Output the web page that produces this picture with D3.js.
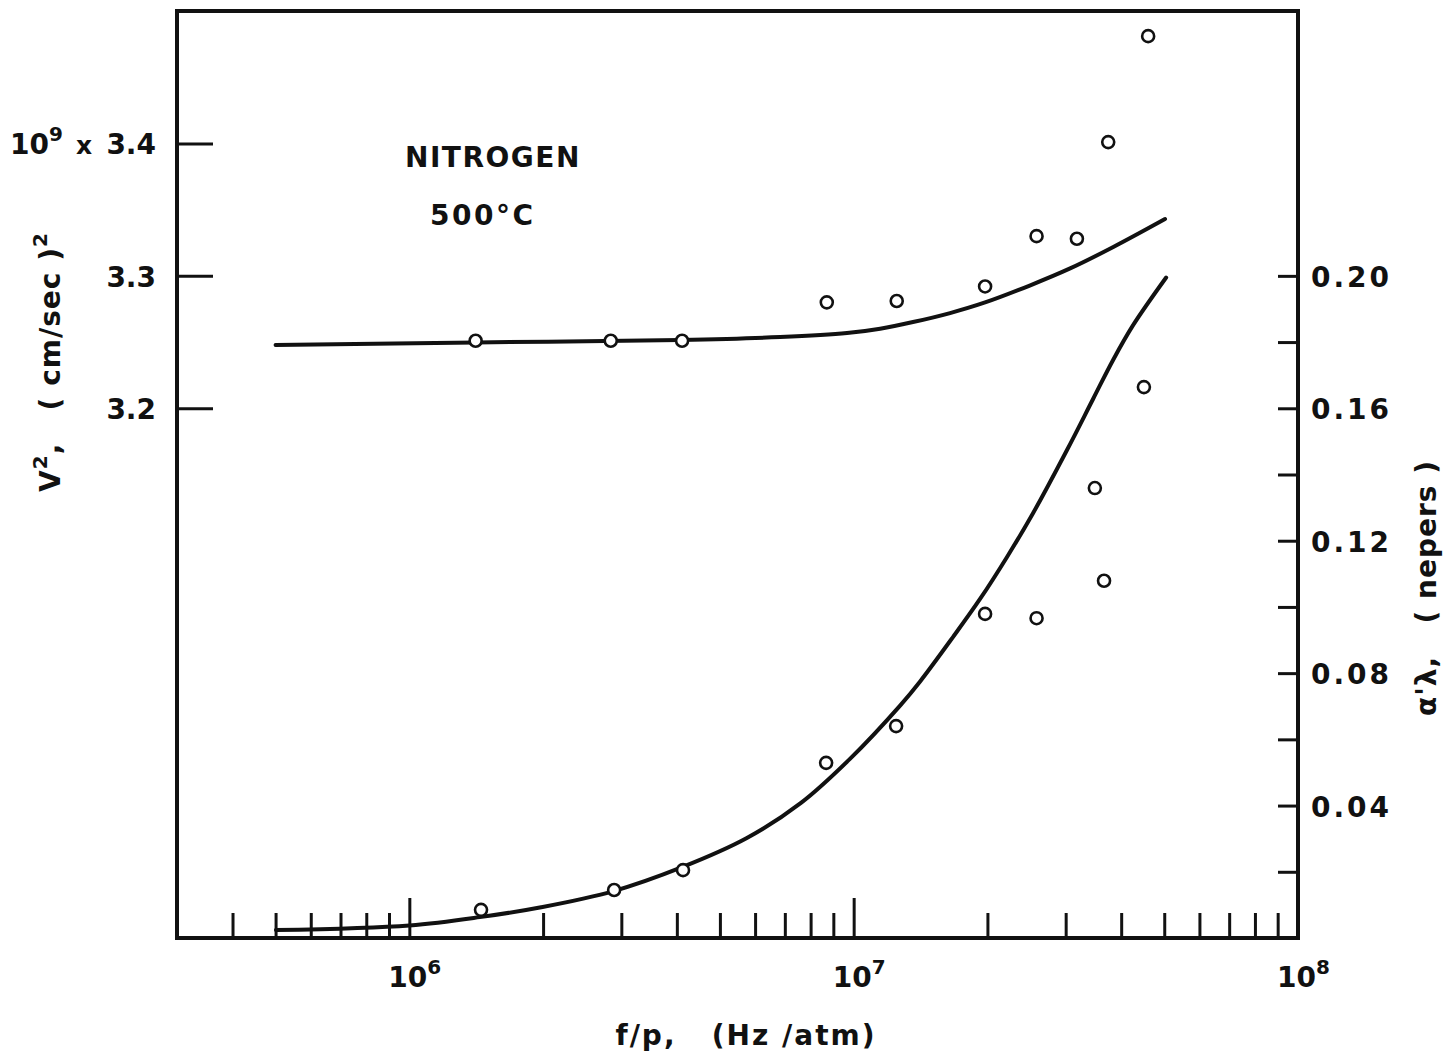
<!DOCTYPE html>
<html>
<head>
<meta charset="utf-8">
<script src="https://cdn.jsdelivr.net/npm/d3@7"></script>
<style>
  html, body { margin: 0; padding: 0; background: #fff; }
  svg text { font-family: "DejaVu Sans", "Liberation Sans", sans-serif; font-weight: bold; fill: #111; }
</style>
</head>
<body>
<svg id="chart" width="1444" height="1058"></svg>
<script>
// Sound speed squared (left axis, units of 1e9 (cm/sec)^2) and absorption per wavelength (right axis, nepers)
// versus frequency/pressure in nitrogen at 500 °C.

// Measured V^2 points
const vFreq = [1.41e6, 2.84e6, 4.11e6, 8.70e6, 1.25e7, 1.976e7, 2.58e7, 3.18e7, 3.74e7, 4.60e7];
const vSq   = [3.251, 3.251, 3.251, 3.280, 3.281, 3.292, 3.330, 3.328, 3.401, 3.481];

// Theoretical V^2 curve
const vCurveFreq = [5.0e5, 1.413e6, 4.07e6, 6.83e6, 9.66e6, 1.147e7, 1.36e7, 1.648e7, 1.976e7, 2.49e7, 3.07e7, 3.84e7, 5.02e7];
const vCurveSq   = [3.2478, 3.2497, 3.2516, 3.2538, 3.2568, 3.2601, 3.2651, 3.2719, 3.2799, 3.2927, 3.3056, 3.3218, 3.3429];

// Measured alpha-lambda points
const aFreq = [1.45e6, 2.89e6, 4.13e6, 8.67e6, 1.246e7, 1.976e7, 2.58e7, 3.49e7, 3.66e7, 4.50e7];
const aLam  = [0.0085, 0.0145, 0.0205, 0.0529, 0.0640, 0.0979, 0.0966, 0.1359, 0.1079, 0.1664];

// Theoretical alpha-lambda curve
const aCurveFreq = [5.01e5, 1.0e6, 1.44e6, 1.98e6, 2.87e6, 4.11e6, 5.75e6, 7.61e6, 9.81e6, 1.272e7, 1.411e7, 1.673e7,
                    1.925e7, 2.214e7, 2.533e7, 3.021e7, 3.458e7, 3.836e7, 4.255e7, 5.05e7];
const aCurveLam  = [0.0024, 0.0038, 0.0063, 0.0093, 0.0141, 0.0214, 0.0302, 0.0408, 0.0541, 0.0702, 0.0775, 0.0909,
                    0.1024, 0.1151, 0.1283, 0.1474, 0.1628, 0.1746, 0.1851, 0.1995];

// Axis ticks and labels
const leftTicks = [3.2, 3.3, 3.4];
const leftTickLabels = ["3.2", "3.3", "3.4"];
const rightTicks = [0.02, 0.04, 0.06, 0.08, 0.10, 0.12, 0.14, 0.16, 0.18, 0.20];
const rightLabelTicks = [0.04, 0.08, 0.12, 0.16, 0.20];
const rightTickLabels = ["0.04", "0.08", "0.12", "0.16", "0.20"];
const decadeTicks = [1e6, 1e7, 1e8];
const decadeExponents = ["6", "7", "8"];
const minorTicks = [4e5, 5e5, 6e5, 7e5, 8e5, 9e5,
                    2e6, 3e6, 4e6, 5e6, 6e6, 7e6, 8e6, 9e6,
                    2e7, 3e7, 4e7, 5e7, 6e7, 7e7, 8e7, 9e7];

const svg = d3.select("#chart");
const plotLeft = 177, plotRight = 1298, plotTop = 11, plotBottom = 938;

const x = d3.scaleLog().domain([3e5, 1e8]).range([plotLeft, plotRight]);
const yL = d3.scaleLinear().domain([2.8, 3.5]).range([plotBottom, plotTop]);
const yR = d3.scaleLinear().domain([0, 0.28]).range([plotBottom, plotTop]);

const ink = "#111";

// Curves
const vLine = d3.line().x(d => x(d[0])).y(d => yL(d[1])).curve(d3.curveCatmullRom.alpha(0.5));
const aLine = d3.line().x(d => x(d[0])).y(d => yR(d[1])).curve(d3.curveCatmullRom.alpha(0.5));

svg.append("path")
  .datum(d3.zip(vCurveFreq, vCurveSq))
  .attr("d", vLine).attr("fill", "none").attr("stroke", ink)
  .attr("stroke-width", 4).attr("stroke-linecap", "round");

svg.append("path")
  .datum(d3.zip(aCurveFreq, aCurveLam))
  .attr("d", aLine).attr("fill", "none").attr("stroke", ink)
  .attr("stroke-width", 4).attr("stroke-linecap", "round");

// Bottom axis ticks (drawn inward)
const bottomAxisMinor = d3.axisBottom(x).tickValues(minorTicks).tickSize(-25).tickFormat("");
const bottomAxisMajor = d3.axisBottom(x).tickValues(decadeTicks.slice(0, 2)).tickSize(-40).tickFormat("");
[bottomAxisMinor, bottomAxisMajor].forEach(ax => {
  const g = svg.append("g").attr("transform", `translate(0,${plotBottom})`).call(ax);
  g.select(".domain").remove();
  g.selectAll(".tick line").attr("stroke", ink).attr("stroke-width", 3);
});

// Left axis ticks
const leftAxis = d3.axisRight(yL).tickValues(leftTicks).tickSize(36).tickFormat("");
const gl = svg.append("g").attr("transform", `translate(${plotLeft},0)`).call(leftAxis);
gl.select(".domain").remove();
gl.selectAll(".tick line").attr("stroke", ink).attr("stroke-width", 3);

// Right axis ticks
const rightAxis = d3.axisLeft(yR).tickValues(rightTicks).tickSize(20).tickFormat("");
const gr = svg.append("g").attr("transform", `translate(${plotRight},0)`).call(rightAxis);
gr.select(".domain").remove();
gr.selectAll(".tick line").attr("stroke", ink).attr("stroke-width", 3);

// Frame
svg.append("rect")
  .attr("x", plotLeft).attr("y", plotTop).attr("width", plotRight - plotLeft).attr("height", plotBottom - plotTop)
  .attr("fill", "none").attr("stroke", ink).attr("stroke-width", 4);

// Data points (open circles)
svg.append("g").selectAll("circle").data(d3.zip(vFreq, vSq)).join("circle")
  .attr("cx", d => x(d[0])).attr("cy", d => yL(d[1])).attr("r", 6)
  .attr("fill", "#fff").attr("stroke", ink).attr("stroke-width", 2.6);

svg.append("g").selectAll("circle").data(d3.zip(aFreq, aLam)).join("circle")
  .attr("cx", d => x(d[0])).attr("cy", d => yR(d[1])).attr("r", 6)
  .attr("fill", "#fff").attr("stroke", ink).attr("stroke-width", 2.6);

// Shared lettering sizes
const fs = 28, fsSup = 20;

// Left tick labels
leftTicks.forEach((v, i) => {
  svg.append("text").attr("x", 156).attr("y", yL(v) + 11)
    .attr("text-anchor", "end").attr("font-size", fs).text(leftTickLabels[i]);
});
// Scale multiplier in front of the top label
const mult = svg.append("text").attr("x", 10).attr("y", yL(3.4) + 11).attr("font-size", fs);
mult.append("tspan").text("10");
mult.append("tspan").attr("dy", -13).attr("font-size", fsSup).text("9");
mult.append("tspan").attr("x", 76).attr("dy", 13).attr("font-size", 25).text("x");

// Right tick labels
rightLabelTicks.forEach((v, i) => {
  svg.append("text").attr("x", 1311).attr("y", yR(v) + 11)
    .attr("font-size", fs).attr("letter-spacing", 3).text(rightTickLabels[i]);
});

// Decade labels on the x axis
decadeTicks.forEach((v, i) => {
  const t = svg.append("text").attr("x", x(v) - 21).attr("y", 987).attr("font-size", fs);
  t.append("tspan").text("10");
  t.append("tspan").attr("dy", -13).attr("font-size", fsSup).text(decadeExponents[i]);
});

// Axis titles
svg.append("text").attr("x", 746).attr("y", 1045).attr("text-anchor", "middle")
  .attr("font-size", fs).attr("letter-spacing", 2).attr("xml:space", "preserve").text("f/p,   (Hz /atm)");

const lt = svg.append("text").attr("transform", "translate(60,362) rotate(-90)")
  .attr("text-anchor", "middle").attr("font-size", fs).attr("letter-spacing", 1).attr("xml:space", "preserve");
lt.append("tspan").text("V");
lt.append("tspan").attr("dy", -13).attr("font-size", fsSup).text("2");
lt.append("tspan").attr("dy", 13).text(",   ( cm/sec )");
lt.append("tspan").attr("dy", -13).attr("font-size", fsSup).text("2");

svg.append("text").attr("transform", "translate(1436,588) rotate(-90)")
  .attr("text-anchor", "middle").attr("font-size", fs).attr("letter-spacing", 1).attr("xml:space", "preserve")
  .text("α'λ,   ( nepers )");

// Annotation
svg.append("text").attr("x", 405).attr("y", 167).attr("font-size", fs).attr("letter-spacing", 1.5).text("NITROGEN");
svg.append("text").attr("x", 430).attr("y", 225).attr("font-size", fs).attr("letter-spacing", 2.5).text("500°C");
</script>
</body>
</html>
